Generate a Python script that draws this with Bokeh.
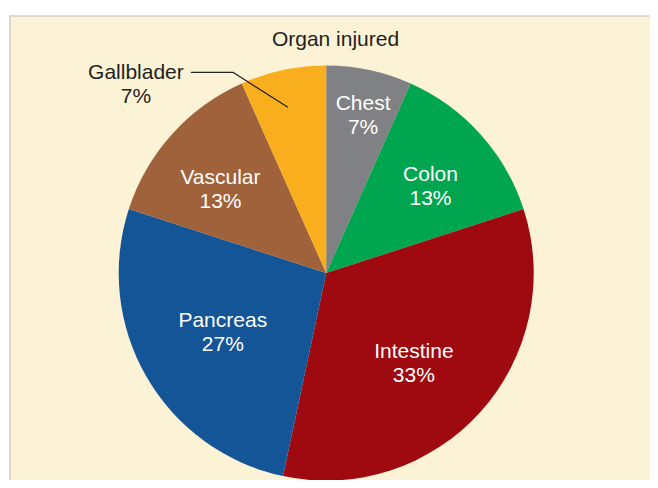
import numpy as np
from bokeh.plotting import figure
from bokeh.models import Range1d, Span, Label, ColumnDataSource
from bokeh.core.properties import value
from bokeh.embed import file_html
from bokeh.resources import INLINE

# ---- data ----
title_text = "Organ injured"
organs = ["Chest", "Colon", "Intestine", "Pancreas", "Vascular", "Gallblader"]
counts = [1, 2, 5, 4, 2, 1]
colors = ["#808184", "#00A550", "#9E0A0F", "#135596", "#A0623A", "#F9AE1D"]

# ---- layout ----
R = 207.5
FONT = "Liberation Sans"
FS = "21px"
label_r = [0.784, 0.656, 0.605, 0.572, 0.652]       # inside labels, fraction of R
label_dang = [1.1, 2.0, 3.7, 0.6, -3.4]             # degrees clockwise tweak
bg = "#FCF2D5"
SH = -7.5   # vertical text correction (screen px)

total = float(sum(counts))
frac = np.array(counts) / total
cum_end = np.cumsum(frac)
cum_start = cum_end - frac
start_angle = np.pi / 2 - 2 * np.pi * cum_end
end_angle = np.pi / 2 - 2 * np.pi * cum_start
mid_deg = 360 * (cum_start + cum_end) / 2
pcts = [f"{int(round(100 * f))}%" for f in frac]

p = figure(width=650, height=480, output_backend="svg", toolbar_location=None,
           x_range=Range1d(-316.7, 324.3), y_range=Range1d(-207.4, 257.6),
           x_axis_location=None, y_axis_location=None,
           min_border_left=9, min_border_top=15, min_border_right=0, min_border_bottom=0,
           background_fill_color=bg, border_fill_color="white")
p.grid.visible = False
p.outline_line_color = None

src = ColumnDataSource(dict(organ=organs, start=start_angle, end=end_angle, color=colors))
p.wedge(x=0, y=0, radius=R, start_angle="start", end_angle="end",
        fill_color="color", line_color=None, source=src)

# inside labels
n_in = len(label_r)
th = np.radians(mid_deg[:n_in] + np.array(label_dang))
lx = R * np.array(label_r) * np.sin(th)
ly = R * np.array(label_r) * np.cos(th)
lsrc = ColumnDataSource(dict(x=lx, y=ly, name=organs[:n_in], pct=pcts[:n_in]))
p.text(x="x", y="y", text="name", source=lsrc, text_color="white",
       text_font=value(FONT), text_font_size=FS, text_align="center",
       text_baseline="alphabetic", y_offset=-4.5 + SH)
p.text(x="x", y="y", text="pct", source=lsrc, text_color="white",
       text_font=value(FONT), text_font_size=FS, text_align="center",
       text_baseline="alphabetic", y_offset=19.5 + SH)

# outside label (Gallbladder) with leader
g = len(organs) - 1
tg = np.radians(mid_deg[g] - 1)
sx, sy = 0.82 * R * np.sin(tg), 0.82 * R * np.cos(tg)
ex, ey = sx - 55, sy + 35
fx, fy = ex - 42, ey
p.line(x=[sx, ex, fx], y=[sy, ey, fy], line_color="#231F20", line_width=1.2)
p.text(x=[fx - 55], y=[fy], text=[organs[g]], text_color="#231F20",
       text_font=value(FONT), text_font_size=FS, text_align="center",
       text_baseline="alphabetic", y_offset=6.7 + SH)
p.text(x=[fx - 55], y=[fy], text=[pcts[g]], text_color="#231F20",
       text_font=value(FONT), text_font_size=FS, text_align="center",
       text_baseline="alphabetic", y_offset=30.2 + SH)

# title
p.add_layout(Label(x=9.3, y=226.9, y_offset=-SH, text=title_text, text_align="center",
                   text_baseline="alphabetic", text_font=FONT, text_font_size=FS,
                   text_color="#231F20"))

# panel border (top and left)
p.add_layout(Span(location=257.6, dimension="width", line_color="#BDBDBD", line_width=2))
p.add_layout(Span(location=-316.7, dimension="height", line_color="#BDBDBD", line_width=2))

open("out.html", "w").write(file_html(p, INLINE))
